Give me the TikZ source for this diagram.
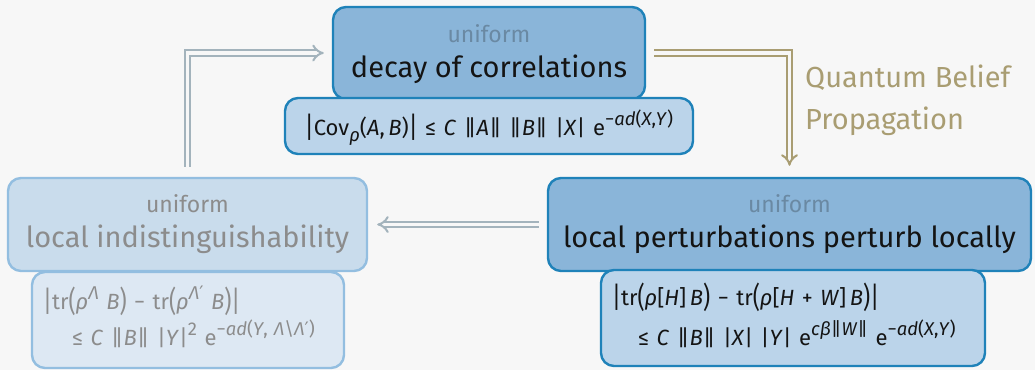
\documentclass[tikz,border=0pt]{standalone}
\usepackage{graphicx}
\usepackage{fontspec}
\setmainfont{Fira Sans}
\newfontfamily\symfont{DejaVu Sans}
\usetikzlibrary{arrows.meta}
\definecolor{bgc}{HTML}{F7F7F7}
\definecolor{boxfill}{HTML}{8AB5D9}
\definecolor{boxdraw}{HTML}{1F82B9}
\definecolor{formfill}{HTML}{BBD4EA}
\definecolor{fadefill}{HTML}{C9DCEC}
\definecolor{fadedraw}{HTML}{93BEE0}
\definecolor{fadeform}{HTML}{DDE8F3}
\definecolor{fadetext}{HTML}{8C8C8C}
\definecolor{unitext}{HTML}{6A89A3}
\definecolor{goldc}{HTML}{A99D72}
\definecolor{grayarr}{HTML}{A3B3BC}
\newcommand\va[1]{\textit{#1}}
\newcommand\dbar{‖}
\newcommand\gp{\hspace{0.34em}}
\newcommand\prm{{\symfont ′}}
\newcommand\sups[1]{\raisebox{0.42em}{\fontsize{18.5}{21}\selectfont #1}}
\newcommand\subs[1]{\raisebox{-0.3em}{\fontsize{18.5}{21}\selectfont #1}}
\newcommand\bd[1]{\raisebox{-0.12em}{\scalebox{1}[1.32]{#1}}}
\tikzset{
  mainbox/.style={draw=boxdraw, fill=boxfill, line width=2.4pt, rounded corners=13pt, inner sep=0pt},
  formbox/.style={draw=boxdraw, fill=formfill, line width=2.4pt, rounded corners=13pt, inner sep=0pt},
  fadebox/.style={draw=fadedraw, fill=fadefill, line width=2.4pt, rounded corners=13pt, inner sep=0pt},
  fadeformbox/.style={draw=fadedraw, fill=fadeform, line width=2.4pt, rounded corners=13pt, inner sep=0pt},
  unitxt/.style={font=\fontsize{23}{27}\selectfont, text=unitext, inner sep=0pt, anchor=base},
  maintxt/.style={font=\fontsize{29}{34}\selectfont, text=black!92, inner sep=0pt, anchor=base},
  formtxt/.style={font=\fontsize{22}{30}\selectfont, text=black!92, inner sep=0pt},
  dblarrow/.style={line width=2pt, double distance=3.6pt, double=bgc, -{Implies[length=10pt,width=22pt]}},
  lbltxt/.style={font=\fontsize{29}{34}\selectfont, text=goldc, inner sep=0pt, anchor=base west},
}
\begin{document}
\begin{tikzpicture}[x=1pt,y=-1pt]
\fill[bgc] (0,0) rectangle (1035,370);
\useasboundingbox (0,0) rectangle (1035,370);
% top
\node[mainbox, minimum width=312pt, minimum height=92pt] (dc) at (489,53) {};
\node[formbox, minimum width=408pt, minimum height=56pt] (dcf) at (489,126) {};
\node[unitxt] (dcu) at (489,42) {uniform};
\node[maintxt] (dct) at (489,77) {decay of correlations};
\node[formtxt, anchor=base] (dcff) at (489,135) {\bd{|}Cov\subs{\va{ρ}}(\va{A},\,\va{B})\bd{|}\gp≤\gp\va{C}\gp\dbar\va{A}\dbar\gp\dbar\va{B}\dbar\gp|\va{X}|\gp e\sups{−\va{ad}(\va{X},\va{Y})}};
% right
\node[mainbox, minimum width=483pt, minimum height=93pt] (rb) at (789.5,224.5) {};
\node[formbox, minimum width=384pt, minimum height=96pt] (rbf) at (793,318) {};
\node[unitxt] (rbu) at (789.5,212) {uniform};
\node[maintxt] (rbt) at (789.5,247) {local perturbations perturb locally};
\node[formtxt, anchor=base west] (rbf1) at (612,305) {\bd{|}tr\bd{(}\va{ρ}[\va{H}]\,\va{B}\bd{)}\gp−\gp tr\bd{(}\va{ρ}[\va{H}\gp+\gp\va{W}]\,\va{B}\bd{)}\bd{|}};
\node[formtxt, anchor=base west] (rbf2) at (638,345) {≤\gp\va{C}\gp\dbar\va{B}\dbar\gp|\va{X}|\gp|\va{Y}|\gp e\sups{\va{cβ}\dbar\va{W}\dbar}\gp e\sups{−\va{ad}(\va{X},\va{Y})}};
% left
\node[fadebox, minimum width=359pt, minimum height=93pt] (li) at (187.5,224.5) {};
\node[fadeformbox, minimum width=312pt, minimum height=96pt] (lif) at (188,320) {};
\node[unitxt, text=fadetext] (liu) at (187.5,212) {uniform};
\node[maintxt, text=fadetext] (lit) at (187.5,247) {local indistinguishability};
\node[formtxt, text=fadetext, anchor=base west] (lif1) at (43,309) {\bd{|}tr\bd{(}\va{ρ}\sups{\va{Λ}}\gp\va{B}\bd{)}\gp−\gp tr\bd{(}\va{ρ}\sups{\va{Λ}\prm}\gp\va{B}\bd{)}\bd{|}};
\node[formtxt, text=fadetext, anchor=base west] (lif2) at (72,345) {≤\gp\va{C}\gp\dbar\va{B}\dbar\gp|\va{Y}|\sups{2}\gp e\sups{−\va{ad}(\va{Y},\gp\va{Λ}\textbackslash\va{Λ}\prm)}};
% arrows
\draw[dblarrow, grayarr] ([yshift=10pt]li.north) |- ([xshift=-8pt]dc.west);
\draw[dblarrow, goldc] ([xshift=8pt]dc.east) -| ([yshift=11pt]rb.north);
\draw[dblarrow, grayarr] ([xshift=-8pt]rb.west) -- ([xshift=9pt]li.east);
\node[lbltxt] (qb1) at (805,87) {Quantum Belief};
\node[lbltxt] (qb2) at (805,129) {Propagation};
\end{tikzpicture}
\end{document}
